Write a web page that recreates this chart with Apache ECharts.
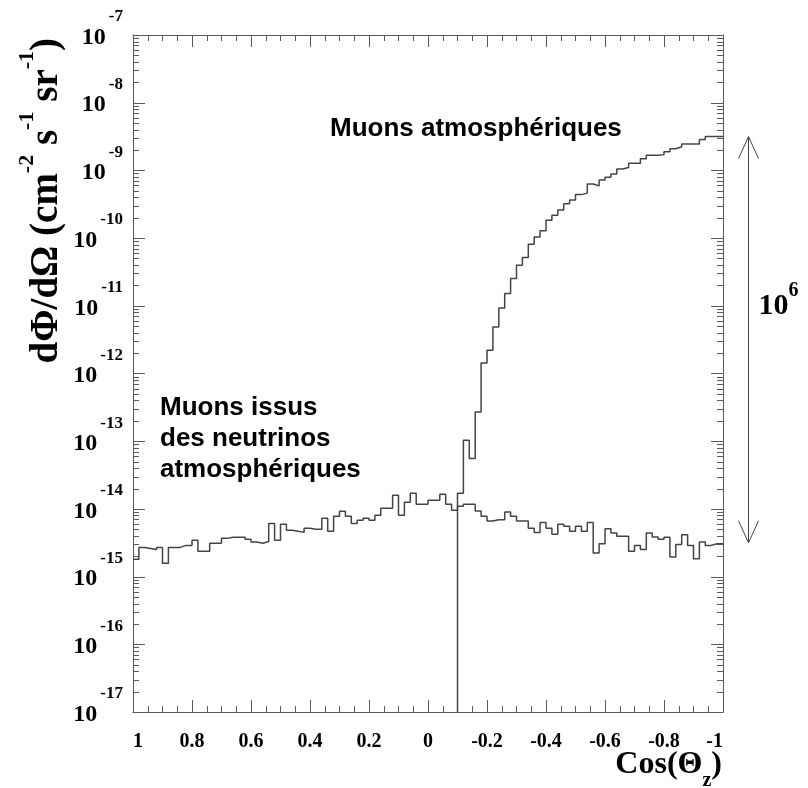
<!DOCTYPE html>
<html>
<head>
<meta charset="utf-8">
<script src="https://cdn.jsdelivr.net/npm/echarts@6/dist/echarts.min.js"></script>
<style>
  html, body { margin: 0; padding: 0; background: #fff; }
  #chart { width: 808px; height: 788px; }
</style>
</head>
<body>
<div id="chart"></div>
<script>
// Zenith-angle distribution of muon flux: atmospheric muons vs neutrino-induced muons.
// Histogram binning: 100 bins of cos(theta_z) from 1 down to -1.
const COS_START = 1;
const COS_END = -1;
const BIN_WIDTH = 0.02;
const X_TICK_STEP = 0.2;
const Y_MIN = 1e-17;
const Y_MAX = 1e-7;

// Muons from atmospheric neutrinos, one value per bin starting at cos = 1 (cm^-2 s^-1 sr^-1)
const neutrinoMuons = [
  1.80e-15, 2.70e-15, 2.61e-15, 2.52e-15, 2.70e-15, 1.57e-15, 2.70e-15, 2.70e-15, 2.89e-15, 2.89e-15,
  3.43e-15, 2.36e-15, 2.36e-15, 3.10e-15, 3.10e-15, 3.67e-15, 3.80e-15, 3.80e-15, 3.80e-15, 3.55e-15,
  3.24e-15, 3.10e-15, 3.30e-15, 6.11e-15, 3.43e-15, 5.91e-15, 4.82e-15, 4.66e-15, 4.50e-15, 5.16e-15,
  4.99e-15, 4.99e-15, 7.25e-15, 4.66e-15, 7.76e-15, 9.20e-15, 7.76e-15, 6.11e-15, 6.77e-15, 7.25e-15,
  6.77e-15, 8.03e-15, 1.02e-14, 1.02e-14, 1.59e-14, 8.03e-15, 1.25e-14, 1.70e-14, 1.17e-14, 1.17e-14,
  1.34e-14, 1.34e-14, 1.64e-14, 1.17e-14, 9.52e-15, 1.09e-14, 1.17e-14, 1.17e-14, 9.29e-15, 7.76e-15,
  6.61e-15, 6.93e-15, 6.93e-15, 8.98e-15, 7.76e-15, 6.61e-15, 6.61e-15, 5.16e-15, 4.50e-15, 6.32e-15,
  5.16e-15, 4.21e-15, 5.91e-15, 5.52e-15, 4.66e-15, 5.52e-15, 4.66e-15, 6.32e-15, 2.24e-15, 3.06e-15,
  5.10e-15, 4.40e-15, 3.93e-15, 3.93e-15, 2.36e-15, 2.89e-15, 2.52e-15, 4.40e-15, 3.86e-15, 3.55e-15,
  3.80e-15, 1.94e-15, 2.99e-15, 4.16e-15, 2.89e-15, 1.84e-15, 3.24e-15, 2.89e-15, 3.06e-15, 3.06e-15
];

// Atmospheric (downgoing) muons, non-zero only below cos = -0.1
const ATMO_START = -0.1;
const atmosphericMuons = [
  1.71e-14, 1.03e-13, 5.53e-14, 2.70e-13, 1.43e-12, 2.21e-12, 4.88e-12, 9.31e-12, 1.52e-11, 2.53e-11,
  3.98e-11, 5.18e-11, 8.14e-11, 1.04e-10, 1.28e-10, 1.84e-10, 2.18e-10, 2.59e-10, 3.23e-10, 3.64e-10,
  4.39e-10, 4.62e-10, 6.31e-10, 5.90e-10, 7.19e-10, 7.91e-10, 8.87e-10, 1.05e-9, 1.10e-9, 1.28e-9,
  1.28e-9, 1.49e-9, 1.68e-9, 1.68e-9, 1.71e-9, 1.88e-9, 2.09e-9, 2.23e-9, 2.45e-9, 2.45e-9,
  2.45e-9, 2.87e-9, 3.16e-9, 3.16e-9, 3.16e-9
];

// Decade labels of the flux axis (exponents of 10)
const decadeExponents = [-17, -16, -15, -14, -13, -12, -11, -10, -9, -8, -7];

// Ratio marker between the two populations (six decades)
const ratioSpan = [3.16e-9, 3.16e-15];
const ratioLabelAt = 1e-11;

const LINE_COLOR = '#444';
const FRAME_COLOR = '#5a5a5a';
const SERIF = "'Liberation Serif', 'Times New Roman', serif";
const SANS = "'Liberation Sans', Arial, sans-serif";

// Step outline of a histogram; optionally rises from the axis floor at its first edge.
function histOutline(firstEdge, values, fromFloor) {
  const pts = [];
  if (fromFloor) pts.push([firstEdge, Y_MIN]);
  values.forEach((v, i) => {
    const lo = +(firstEdge - BIN_WIDTH * i).toFixed(4);
    const hi = +(firstEdge - BIN_WIDTH * (i + 1)).toFixed(4);
    pts.push([lo, v], [hi, v]);
  });
  return pts;
}

// Log-axis tick positions: decades (major) and 2..9 x 10^n (minor)
const logMajorTicks = decadeExponents.map(e => [0, Math.pow(10, e)]);
const logMinorTicks = [];
for (let e = -17; e < -7; e++) {
  for (let k = 2; k <= 9; k++) logMinorTicks.push([0, k * Math.pow(10, e)]);
}

const chart = echarts.init(document.getElementById('chart'), null, { renderer: 'canvas' });

const baseX = {
  type: 'value', min: COS_END, max: COS_START, interval: X_TICK_STEP, inverse: true,
  axisLine: { show: true, onZero: false, lineStyle: { color: FRAME_COLOR, width: 1 } },
  axisTick: { show: true, inside: true, length: 12, lineStyle: { color: FRAME_COLOR } },
  minorTick: { show: true, splitNumber: 4, length: 6, lineStyle: { color: FRAME_COLOR } },
  splitLine: { show: false }
};
const baseY = {
  type: 'log', logBase: 10, min: Y_MIN, max: Y_MAX, splitNumber: 10, interval: 1,
  axisLine: { show: true, onZero: false, lineStyle: { color: FRAME_COLOR, width: 1 } },
  axisTick: { show: false },
  minorTick: { show: false },
  splitLine: { show: false }
};

function tickRenderer(len) {
  return (params, api) => {
    const v = api.value(1);
    const left = api.coord([COS_START, v]);
    const right = api.coord([COS_END, v]);
    const y = Math.round(left[1]) + 0.5;
    return {
      type: 'group',
      children: [
        { type: 'line', shape: { x1: left[0], y1: y, x2: left[0] + len, y2: y }, style: { stroke: FRAME_COLOR, lineWidth: 1 } },
        { type: 'line', shape: { x1: right[0] - len, y1: y, x2: right[0], y2: y }, style: { stroke: FRAME_COLOR, lineWidth: 1 } }
      ]
    };
  };
}

// Decade labels drawn at each power of ten on the left axis
function labelRenderer(params, api) {
  const v = api.value(1);
  const p = api.coord([COS_START, v]);
  return {
    type: 'text',
    x: p[0] - 10, y: p[1] - 6,
    style: {
      text: '{b|10}{e|' + Math.round(Math.log10(v)) + '}',
      align: 'right', verticalAlign: 'middle',
      rich: {
        b: { fontFamily: SERIF, fontWeight: 'bold', fontSize: 24, fill: '#000', verticalAlign: 'bottom', lineHeight: 41 },
        e: { fontFamily: SERIF, fontWeight: 'bold', fontSize: 17, fill: '#000', verticalAlign: 'top', lineHeight: 41, padding: [0, 0, 0, 3] }
      }
    }
  };
}

chart.setOption({
  animation: false,
  backgroundColor: '#fff',
  grid: { left: 133, right: 85, top: 35, bottom: 76, containLabel: false },
  xAxis: [
    Object.assign({}, baseX, {
      position: 'bottom',
      axisLabel: {
        show: true, margin: 20, color: '#000',
        fontFamily: SERIF, fontWeight: 'bold', fontSize: 20,
        alignMinLabel: 'right', alignMaxLabel: 'left',
        formatter: v => String(Math.round(v * 10) / 10)
      }
    }),
    Object.assign({}, baseX, { position: 'top', axisLabel: { show: false } })
  ],
  yAxis: [
    Object.assign({}, baseY, { position: 'left', axisLabel: { show: false } }),
    Object.assign({}, baseY, { position: 'right', axisLabel: { show: false } })
  ],
  series: [
    {
      name: 'log major ticks', type: 'custom', xAxisIndex: 0, yAxisIndex: 0, silent: true, clip: false,
      data: logMajorTicks, renderItem: tickRenderer(12)
    },
    {
      name: 'log minor ticks', type: 'custom', xAxisIndex: 0, yAxisIndex: 0, silent: true, clip: false,
      data: logMinorTicks, renderItem: tickRenderer(6)
    },
    {
      name: 'decade labels', type: 'custom', xAxisIndex: 0, yAxisIndex: 0, silent: true, clip: false,
      data: logMajorTicks, renderItem: labelRenderer
    },
    {
      name: 'Muons issus des neutrinos atmosphériques', type: 'line',
      data: histOutline(COS_START, neutrinoMuons, false),
      showSymbol: false, symbol: 'none',
      lineStyle: { color: LINE_COLOR, width: 1.5 }
    },
    {
      name: 'Muons atmosphériques', type: 'line',
      data: histOutline(ATMO_START, atmosphericMuons, true),
      showSymbol: false, symbol: 'none',
      lineStyle: { color: LINE_COLOR, width: 1.5 }
    }
  ]
});

// Annotations positioned from the axes' own scales
const topPt = chart.convertToPixel({ xAxisIndex: 0, yAxisIndex: 0 }, [COS_END, ratioSpan[0]]);
const botPt = chart.convertToPixel({ xAxisIndex: 0, yAxisIndex: 0 }, [COS_END, ratioSpan[1]]);
const labPt = chart.convertToPixel({ xAxisIndex: 0, yAxisIndex: 0 }, [COS_END, ratioLabelAt]);
const ax = Math.round(topPt[0]) + 25.5;
const headW = 10, headL = 22;

chart.setOption({
  graphic: [
    {
      type: 'text', x: 41, y: 38, rotation: Math.PI / 2,
      style: {
        text: '{m|dΦ/dΩ (cm}{s|-2}{m| s}{s|-1}{m| sr}{s|-1}{m|)}',
        align: 'right', verticalAlign: 'middle',
        rich: {
          m: { fontFamily: SERIF, fontWeight: 'bold', fontSize: 39, fill: '#000', verticalAlign: 'bottom', lineHeight: 50 },
          s: { fontFamily: SERIF, fontWeight: 'bold', fontSize: 22, fill: '#000', verticalAlign: 'top', lineHeight: 50 }
        }
      }
    },
    {
      type: 'text', x: 722, y: 770,
      style: {
        text: '{m|Cos(Θ}{z|z}{m|)}',
        align: 'right', verticalAlign: 'middle',
        rich: {
          m: { fontFamily: SERIF, fontWeight: 'bold', fontSize: 32, fill: '#000', verticalAlign: 'top', lineHeight: 42 },
          z: { fontFamily: SERIF, fontWeight: 'bold', fontSize: 20, fill: '#000', verticalAlign: 'bottom', lineHeight: 42 }
        }
      }
    },
    {
      type: 'text', x: 330, y: 129,
      style: { text: 'Muons atmosphériques', fontFamily: SANS, fontWeight: 'bold', fontSize: 26, fill: '#000', verticalAlign: 'middle' }
    },
    {
      type: 'text', x: 160, y: 392,
      style: {
        text: 'Muons issus\ndes neutrinos\natmosphériques',
        fontFamily: SANS, fontWeight: 'bold', fontSize: 26, lineHeight: 31, fill: '#000', verticalAlign: 'top'
      }
    },
    {
      type: 'group',
      children: [
        { type: 'line', shape: { x1: ax, y1: topPt[1], x2: ax, y2: botPt[1] }, style: { stroke: LINE_COLOR, lineWidth: 1 } },
        { type: 'polyline', shape: { points: [[ax - headW, topPt[1] + headL], [ax, topPt[1]], [ax + headW, topPt[1] + headL]] }, style: { stroke: LINE_COLOR, lineWidth: 1, fill: null } },
        { type: 'polyline', shape: { points: [[ax - headW, botPt[1] - headL], [ax, botPt[1]], [ax + headW, botPt[1] - headL]] }, style: { stroke: LINE_COLOR, lineWidth: 1, fill: null } }
      ]
    },
    {
      type: 'text', x: ax + 10, y: labPt[1] - 5,
      style: {
        text: '{m|10}{e|6}',
        verticalAlign: 'middle',
        rich: {
          m: { fontFamily: SERIF, fontWeight: 'bold', fontSize: 30, fill: '#000', verticalAlign: 'bottom', lineHeight: 40 },
          e: { fontFamily: SERIF, fontWeight: 'bold', fontSize: 20, fill: '#000', verticalAlign: 'top', lineHeight: 40 }
        }
      }
    }
  ]
});
</script>
</body>
</html>
